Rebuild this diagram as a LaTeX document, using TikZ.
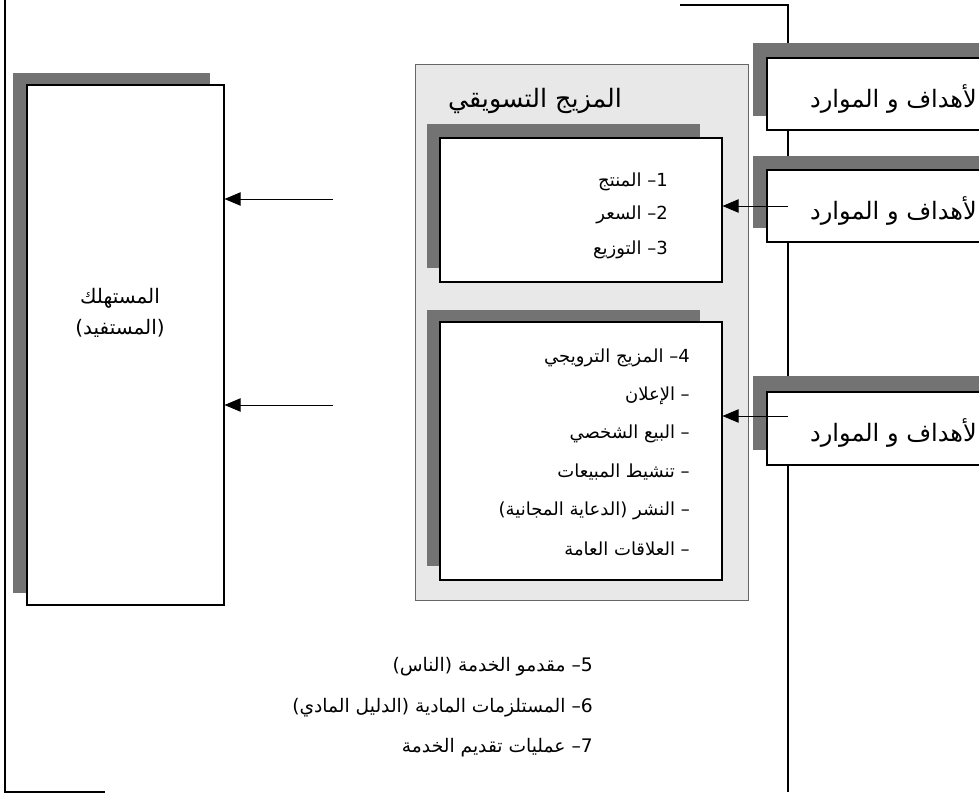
\documentclass[tikz,border=0pt]{standalone}
\usepackage{fontspec}
\TeXXeTstate=1
\newfontfamily\arabicfont[Script=Arabic]{DejaVu Sans}
\usetikzlibrary{arrows.meta,fit}
\begin{document}
\begin{tikzpicture}[x=0.75pt,y=-0.75pt,
  shadowfill/.style={fill=black!55},
  texfill/.style={fill=black!9, draw=black!60, line width=0.4pt},
  whitebox/.style={draw=black, fill=white, line width=0.8pt, inner sep=0pt},
  frameline/.style={draw=black, line width=0.9pt},
  lbl/.style={font=\arabicfont\fontsize{13.5}{16}\selectfont, inner sep=0pt},
  biglbl/.style={font=\arabicfont\fontsize{14}{17}\selectfont, inner sep=0pt},
  conslbl/.style={font=\arabicfont\fontsize{15}{18}\selectfont, inner sep=0pt},
  goallbl/.style={font=\arabicfont\fontsize{18}{21}\selectfont, inner sep=0pt},
  titlelbl/.style={font=\arabicfont\fontsize{19}{22}\selectfont, inner sep=0pt},
  arr/.style={-{Triangle[length=12pt,width=10pt]}, line width=0.6pt}]
\useasboundingbox (0,0) rectangle (979,796);
% outer frame lines
\coordinate (fl1) at (5,0);
\coordinate (fl2) at (5,792);
\coordinate (fl3) at (105,792);
\draw[frameline] (fl1) -- (fl2) -- (fl3);
\coordinate (fr1) at (680,5);
\coordinate (fr2) at (788,5);
\coordinate (fr3) at (788,792);
\draw[frameline] (fr1) -- (fr2) -- (fr3);
% consumer box
\fill[shadowfill] (13,73) rectangle (210,593);
\coordinate (ca) at (27,85);
\coordinate (cb) at (224,605);
\node[whitebox, fit=(ca)(cb)] (consumer) {};
\node[conslbl] (cons1) at (120,298) {\beginR المستهلك\endR};
\node[conslbl] (cons2) at (120,328) {\beginR (المستفيد)\endR};
% marketing mix textured box
\coordinate (ma) at (415,64);
\coordinate (mb) at (748,600);
\node[texfill, fit=(ma)(mb), inner sep=0pt] (mix) {};
\node[titlelbl] (title) at (535,101) {\beginR المزيج التسويقي\endR};
% inner box 1
\fill[shadowfill] (427,124) rectangle (700,268);
\coordinate (m1a) at (440,138);
\coordinate (m1b) at (722,282);
\node[whitebox, fit=(m1a)(m1b)] (mixone) {};
\node[lbl, anchor=east] (p1) at (668,182) {\beginR 1– المنتج\endR};
\node[lbl, anchor=east] (p2) at (668,215) {\beginR 2– السعر\endR};
\node[lbl, anchor=east] (p3) at (668,250) {\beginR 3– التوزيع\endR};
% inner box 2
\fill[shadowfill] (427,310) rectangle (700,566);
\coordinate (m2a) at (440,322);
\coordinate (m2b) at (722,580);
\node[whitebox, fit=(m2a)(m2b)] (mixtwo) {};
\node[lbl, anchor=east] (q1) at (690,358) {\beginR 4– المزيج الترويجي\endR};
\node[lbl, anchor=east] (q2) at (690,396) {\beginR – الإعلان\endR};
\node[lbl, anchor=east] (q3) at (690,434) {\beginR – البيع الشخصي\endR};
\node[lbl, anchor=east] (q4) at (690,472) {\beginR – تنشيط المبيعات\endR};
\node[lbl, anchor=east] (q5) at (690,511) {\beginR – النشر (الدعاية المجانية)\endR};
\node[lbl, anchor=east] (q6) at (690,549) {\beginR – العلاقات العامة\endR};
% right boxes
\fill[shadowfill] (753,43) rectangle (990,116);
\coordinate (r1a) at (767,58);
\coordinate (r1b) at (995,130);
\node[whitebox, fit=(r1a)(r1b)] (goalone) {};
\node[goallbl, anchor=east] (g1) at (977,99) {\beginR لأهداف و الموارد\endR};
\fill[shadowfill] (753,156) rectangle (990,228);
\coordinate (r2a) at (767,170);
\coordinate (r2b) at (995,242);
\node[whitebox, fit=(r2a)(r2b)] (goaltwo) {};
\node[goallbl, anchor=east] (g2) at (977,211) {\beginR لأهداف و الموارد\endR};
\fill[shadowfill] (753,376) rectangle (990,450);
\coordinate (r3a) at (767,392);
\coordinate (r3b) at (995,465);
\node[whitebox, fit=(r3a)(r3b)] (goalthree) {};
\node[goallbl, anchor=east] (g3) at (977,433) {\beginR لأهداف و الموارد\endR};
% arrows
\coordinate (s1) at (333,199);
\coordinate (s2) at (333,405);
\draw[arr] (s1) -- (s1 -| consumer.east);
\draw[arr] (s2) -- (s2 -| consumer.east);
\coordinate (t1) at (788,206);
\coordinate (t2) at (788,416);
\draw[arr] (t1) -- (t1 -| mixone.east);
\draw[arr] (t2) -- (t2 -| mixtwo.east);
% bottom list
\node[biglbl, anchor=east] (b1) at (593,667) {\beginR 5– مقدمو الخدمة (الناس)\endR};
\node[biglbl, anchor=east] (b2) at (593,708) {\beginR 6– المستلزمات المادية (الدليل المادي)\endR};
\node[biglbl, anchor=east] (b3) at (593,748) {\beginR 7– عمليات تقديم الخدمة\endR};
\end{tikzpicture}
\end{document}
